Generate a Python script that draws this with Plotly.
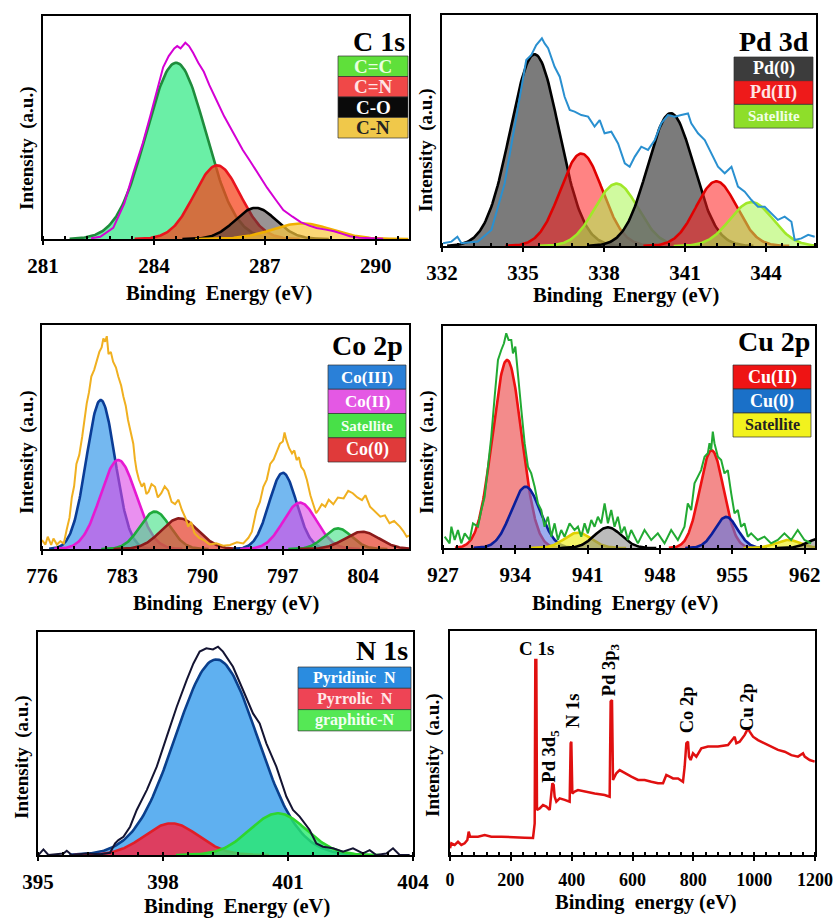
import numpy as np
import plotly.graph_objects as go

W, H = 838, 920
SERIF = "Liberation Serif"

# ---------------- DATA ----------------
# C 1s fit components
c1s_labels = ["C=C", "C=N", "C-O", "C-N"]
c1s_center = [284.60, 285.71, 286.75, 288.0]
c1s_height = [79, 33, 14, 7]
c1s_sigma = [0.80, 0.62, 0.55, 0.80]
c1s_env_x = [282.3, 282.55, 282.9, 283.2, 283.45, 283.7, 283.9, 284.1, 284.25, 284.4,
             284.55, 284.63, 284.72, 284.85, 284.95, 285.06, 285.2, 285.35, 285.5, 285.7,
             285.9, 286.15, 286.4, 286.6, 286.85, 287.06, 287.3, 287.5, 287.75, 287.97,
             288.2, 288.4, 288.65, 288.87, 289.1, 289.3, 289.55, 289.8, 290.2]
c1s_env_y = [0.3, 1, 5, 16, 30, 43, 55, 67, 77, 82,
             85.5, 86.5, 85.5, 88, 86.5, 83.5, 79, 75, 69, 62,
             55, 47.5, 40, 35, 28.5, 23, 17.5, 13, 10, 7.6,
             6, 4.9, 4.2, 3.5, 2.3, 1.2, 0.6, 0.3, 0.1]

# Pd 3d fit components
pd_labels = ["Pd(0)", "Pd(II)", "Satellite"]
pd_kind = [0, 1, 2, 0, 1, 2]
pd_center = [335.43, 337.16, 338.46, 340.47, 342.16, 343.46]
pd_height = [83, 40, 27, 57.5, 28, 19]
pd_sigma = [0.90, 0.78, 0.80, 0.85, 0.75, 0.80]
pd_env_x = [332.04, 332.35, 332.57, 332.72, 333.33, 333.83, 334.32, 334.81, 335.12, 335.31,
            335.49, 335.70, 335.80, 335.93, 336.05, 336.17, 336.36, 336.54, 336.73, 336.91,
            337.16, 337.41, 337.65, 337.84, 338.02, 338.27, 338.52, 338.77, 338.95, 339.14,
            339.38, 339.63, 339.88, 340.12, 340.37, 340.62, 340.86, 341.11, 341.23, 341.48,
            341.73, 341.98, 342.22, 342.47, 342.72, 342.96, 343.21, 343.46, 343.70, 343.95,
            344.20, 344.44, 344.69, 344.94, 345.06, 345.31, 345.56, 345.80]
pd_env_y = [1.2, 1.9, 4.0, 1.2, 1.9, 6.9, 27.1, 58.9, 80.5, 82.7,
            87.0, 89.9, 87.7, 85.6, 82.0, 77.6, 73.3, 64.6, 58.9, 58.2,
            56.7, 56.0, 51.7, 54.5, 48.8, 49.5, 44.4, 35.8, 34.3, 38.7,
            43.0, 41.6, 45.9, 53.1, 56.7, 56.0, 56.7, 57.4, 53.1, 48.8,
            45.9, 40.1, 34.3, 31.5, 34.3, 25.7, 23.5, 19.9, 17.0, 17.0,
            14.2, 11.3, 12.7, 10.5, 2.6, 3.3, 4.8, 4.0]

# Co 2p fit components
co_labels = ["Co(III)", "Co(II)", "Satellite", "Co(0)"]
co_kind = [0, 1, 2, 3, 0, 1, 2, 3]
co_center = [781.12, 782.65, 785.85, 788.0, 797.0, 798.5, 801.8, 803.9]
co_height = [66.5, 39.7, 16.7, 13.7, 34, 20.7, 9.2, 7.7]
co_sigma = [1.25, 1.55, 1.30, 1.60, 1.20, 1.45, 1.20, 1.50]
co_env_x = [776.0, 776.3, 776.5, 776.8, 777.0, 777.3, 777.6, 777.9, 778.15, 778.4,
            778.6, 778.8, 779.0, 779.25, 779.5, 779.7, 779.9, 780.1, 780.3, 780.55,
            780.8, 781.0, 781.2, 781.35, 781.5, 781.65, 781.8, 782.0, 782.2, 782.45,
            782.65, 782.9, 783.1, 783.3, 783.5, 783.75, 783.96, 784.1, 784.25, 784.45,
            784.7, 784.9, 785.1, 785.3, 785.55, 785.85, 786.1, 786.4, 786.7, 787.0,
            787.3, 787.6, 787.9, 788.2, 788.5, 788.75, 789.0, 789.3, 789.7, 790.1,
            790.6, 791.2, 791.8, 792.4, 793.0, 793.55, 794.0, 794.3, 794.5, 794.7,
            795.0, 795.3, 795.6, 795.9, 796.2, 796.5, 796.75, 797.0, 797.15, 797.3,
            797.55, 797.8, 798.0, 798.2, 798.4, 798.6, 798.85, 799.1, 799.4, 799.65,
            799.9, 800.1, 800.4, 800.7, 801.0, 801.4, 801.8, 802.3, 802.7, 803.1,
            803.5, 803.9, 804.2, 804.6, 805.0, 805.5, 805.9, 806.3, 806.7, 807.2,
            807.5, 807.8, 808.0]
co_env_y = [4, 2, 5.5, 1.8, 4.7, 2, 3.5, 2.5, 8.6, 14,
            23, 28, 38, 42, 50, 58, 65, 70, 77, 80,
            84, 88, 90, 94, 92.5, 95, 87, 88, 83.6, 81,
            77, 73, 68, 64, 57.6, 52, 47, 40, 35, 31,
            27.8, 29.5, 24.5, 25.6, 29, 27.8, 23, 24.9, 28, 26,
            21, 20, 22, 17.4, 14, 10, 12, 7, 5, 4,
            2, 2.5, 1.5, 1.8, 3, 2.5, 5, 7.7, 12, 17.4,
            21, 27.8, 31, 38, 40, 44, 47, 48, 52, 48.8,
            45, 42.7, 44, 39.7, 41, 36.7, 35, 30.8, 24, 20,
            16, 17.4, 20, 18.9, 22, 20, 23, 22.6, 26, 24.9,
            23, 21.8, 24, 18.9, 17, 14.4, 15, 11.5, 12.5, 10,
            8, 5.5, 6]

# Cu 2p fit components
cu_labels = ["Cu(II)", "Cu(0)", "Satellite"]
cu_kind = [0, 1, 2, 3, 0, 1, 2, 3]
cu_center = [933.2, 935.0, 940.05, 942.96, 953.0, 954.4, 960.4, 963.6]
cu_height = [84.7, 27.6, 6.9, 9.3, 44, 14, 3.6, 4.5]
cu_sigma = [1.40, 1.40, 1.30, 1.30, 1.15, 1.10, 1.20, 1.20]
cu_env_x = [927.16, 927.64, 927.81, 928.13, 928.45, 928.77, 929.10, 929.58, 929.90, 930.38,
            930.71, 931.03, 931.35, 931.67, 932.0, 932.32, 932.64, 932.9, 933.12, 933.35,
            933.61, 933.77, 934.0, 934.25, 934.58, 934.9, 935.22, 935.54, 935.87, 936.19,
            936.51, 936.83, 937.15, 937.48, 937.8, 938.12, 938.44, 938.77, 939.25, 939.73,
            940.06, 940.38, 940.7, 941.02, 941.35, 941.67, 941.99, 942.31, 942.64, 942.96,
            943.28, 943.6, 943.92, 944.25, 944.57, 944.89, 945.21, 945.86, 946.5, 947.15,
            947.79, 948.44, 949.08, 949.73, 950.37, 950.69, 951.02, 951.34, 951.66, 951.98,
            952.31, 952.63, 952.79, 952.95, 953.11, 953.27, 953.6, 953.92, 954.24, 954.56,
            954.89, 955.21, 955.53, 955.85, 956.17, 956.5, 956.82, 957.46, 958.11, 958.75,
            959.4, 960.04, 960.69, 961.33, 961.98, 962.62]
cu_env_y = [5.1, 2.1, 9.6, 3.6, 8.1, 2.1, 6.6, 3.6, 11.1, 9.6,
            17.1, 23.1, 36.6, 50.1, 68.2, 84.7, 89.2, 92.2, 96.7, 93.7,
            93.7, 87.7, 90.7, 77.2, 62.2, 47.2, 36.6, 33.6, 27.6, 20.1,
            17.1, 9.6, 14.1, 5.1, 11.1, 3.6, 8.1, 5.1, 11.1, 8.1,
            9.6, 5.1, 11.1, 6.6, 12.6, 9.6, 14.1, 11.1, 20.1, 11.1,
            17.1, 9.6, 14.1, 6.6, 9.6, 3.6, 8.1, 2.1, 8.1, 3.6,
            6.6, 2.1, 8.1, 3.6, 9.6, 20.1, 17.1, 29.1, 32.1, 35.1,
            41.1, 42.7, 47.2, 44.1, 52.4, 47.2, 41.1, 39.6, 33.6, 35.1,
            24.6, 15.6, 17.1, 9.6, 11.1, 5.1, 6.6, 3.6, 5.1, 2.1,
            3.6, 6.6, 3.6, 8.1, 3.6, 2.1]

# N 1s fit components
n_labels = ["Pyridinic&nbsp; N", "Pyrrolic&nbsp; N", "graphitic-N"]
n_center = [399.28, 398.2, 400.76]
n_height = [87.7, 14.2, 18.7]
n_sigma = [0.98, 0.65, 0.68]
n_env_x = [395.01, 395.13, 395.25, 395.61, 395.69, 395.81, 396.17, 396.49, 396.73, 396.85,
           396.93, 397.05, 397.21, 397.37, 397.61, 397.85, 398.09, 398.33, 398.57, 398.73,
           398.88, 399.04, 399.2, 399.32, 399.44, 399.68, 399.92, 400.16, 400.32, 400.48,
           400.72, 400.96, 401.12, 401.28, 401.52, 401.68, 401.84, 402.08, 402.32, 402.56,
           402.8, 402.96, 403.12, 403.36, 403.52, 403.68, 403.92]
n_env_y = [0, 2.5, 0, 0.7, 1.9, 0, 0.7, 0.3, 1.0, 5.2,
           6.7, 8.2, 12.7, 20.2, 29.1, 39.6, 53.1, 66.5, 78.5, 85.9,
           91.2, 92.7, 92.2, 93.4, 91.2, 84.4, 74.0, 63.5, 59.0, 50.1,
           39.6, 26.2, 20.2, 17.2, 11.2, 5.2, 3.7, 3.0, 1.5, 3.0,
           0.7, 2.2, 0, 0.7, 3.0, 0, 0]

# Survey spectrum
sv_x = [0, 4.4, 15.3, 26.3, 37.3, 48.2, 57.0, 61.4, 65.8, 75.6,
        92.1, 114, 135.9, 168.8, 201.6, 245.5, 272.9, 278.4, 280.5, 283.8,
        286.0, 294.8, 305.8, 316.7, 327.7, 333.1, 336.4, 340.8, 344.1, 349.6,
        360.6, 377.0, 393.4, 396.7, 398.9, 402.2, 409.9, 420.8, 442.8, 475.6,
        508.5, 524.9, 528.2, 532.6, 535.9, 546.8, 557.8, 574.3, 596.2, 618.1,
        640.0, 661.9, 683.8, 700.3, 711.2, 722.2, 733.2, 749.6, 766.0, 771.5,
        777.0, 782.5, 785.8, 791.2, 798.9, 809.9, 826.3, 848.2, 881.1, 914.0,
        930.4, 935.9, 941.4, 952.3, 968.8, 979.7, 985.2, 996.2, 1012.6, 1034.5,
        1056.4, 1078.4, 1100.3, 1122.2, 1144.1, 1160.6, 1166.1, 1182.5, 1198.9]
sv_y = [3.0, 5.2, 4.5, 5.9, 4.5, 5.2, 6.7, 10.4, 8.2, 8.2,
        8.2, 8.9, 8.2, 8.2, 7.9, 7.7, 7.6, 14.1, 87.1, 87.1,
        20.1, 20.8, 22.3, 21.6, 20.1, 26.0, 32.0, 31.3, 26.0, 23.8,
        25.3, 24.6, 23.8, 49.9, 50.6, 27.5, 28.3, 29.0, 28.3, 27.5,
        26.8, 26.0, 68.5, 69.2, 33.5, 36.5, 37.9, 36.5, 35.0, 33.5,
        33.5, 32.7, 32.0, 32.0, 35.7, 35.0, 34.2, 34.2, 32.7, 39.4,
        49.9, 50.6, 43.9, 42.4, 45.4, 43.9, 47.6, 48.4, 48.4, 49.1,
        52.1, 52.8, 49.9, 50.6, 53.6, 56.5, 55.1, 52.8, 51.3, 49.9,
        48.4, 46.9, 46.1, 44.6, 43.9, 45.4, 43.9, 42.4, 41.7]
sv_peak_labels = ["C 1s", "Pd 3d<sub>5</sub>", "N 1s", "Pd 3p<sub>3</sub>", "Co 2p", "Cu 2p"]
sv_peak_x = [283, 332, 404.5, 530, 780, 974]
sv_peak_y = [92.4, 43.9, 64.3, 82.6, 64.7, 66.2]

# ---------------- STYLE / LAYOUT ----------------
fig = go.Figure()
shapes, annots = [], []


def px(x):
    return x / W


def py(y):
    return 1 - y / H


def add_components(i, centers, heights, sigmas, kinds, fills, lines):
    for c, h, s, k in zip(centers, heights, sigmas, kinds):
        xs = np.linspace(c - 3.6 * s, c + 3.6 * s, 160)
        ys = h * np.exp(-((xs - c) ** 2) / (2 * s * s))
        fig.add_trace(go.Scatter(x=xs, y=ys, mode="lines", fill="tozeroy",
                                 fillcolor=fills[k], line=dict(color=lines[k], width=2.6),
                                 xaxis=f"x{i}", yaxis=f"y{i}", showlegend=False,
                                 hoverinfo="skip"))


# panel 1: C 1s
add_components(1, c1s_center, c1s_height, c1s_sigma, [0, 1, 2, 3],
               ["rgba(80,236,150,0.85)", "rgba(245,70,30,0.75)", "rgba(70,60,60,0.55)", "rgba(250,200,60,0.7)"],
               ["#1e8c3c", "#e8141e", "#000000", "#f0b000"])
fig.add_trace(go.Scatter(x=c1s_env_x, y=c1s_env_y, mode="lines", line=dict(color="#d400d4", width=2),
                         xaxis="x1", yaxis="y1", showlegend=False))

# panel 2: Pd 3d
add_components(2, pd_center, pd_height, pd_sigma, pd_kind,
               ["rgba(100,100,100,0.85)", "rgba(255,30,30,0.55)", "rgba(170,245,80,0.55)"],
               ["#000000", "#e00000", "#a0e828"])
fig.add_trace(go.Scatter(x=pd_env_x, y=pd_env_y, mode="lines", line=dict(color="#2a90d0", width=2),
                         xaxis="x2", yaxis="y2", showlegend=False))

# panel 3: Co 2p
add_components(3, co_center, co_height, co_sigma, co_kind,
               ["rgba(70,160,235,0.75)", "rgba(220,70,230,0.6)", "rgba(60,225,130,0.6)", "rgba(230,60,40,0.7)"],
               ["#0a3c96", "#e619d2", "#1eaa3c", "#8b1a1a"])
fig.add_trace(go.Scatter(x=co_env_x, y=co_env_y, mode="lines", line=dict(color="#f0b020", width=2),
                         xaxis="x3", yaxis="y3", showlegend=False))

# panel 4: Cu 2p
add_components(4, cu_center, cu_height, cu_sigma, cu_kind,
               ["rgba(240,110,110,0.8)", "rgba(90,120,230,0.6)", "rgba(240,240,40,0.7)", "rgba(120,120,120,0.5)"],
               ["#ee1111", "#0a1e9a", "#e0d000", "#000000"])
fig.add_trace(go.Scatter(x=cu_env_x, y=cu_env_y, mode="lines", line=dict(color="#22aa33", width=2),
                         xaxis="x4", yaxis="y4", showlegend=False))

# panel 5: N 1s
add_components(5, n_center, n_height, n_sigma, [0, 1, 2],
               ["rgba(95,176,240,1)", "rgba(235,50,80,0.9)", "rgba(40,235,110,0.8)"],
               ["#0a3f8c", "#e01e28", "#2ed62e"])
fig.add_trace(go.Scatter(x=n_env_x, y=n_env_y, mode="lines", line=dict(color="#141432", width=2),
                         xaxis="x5", yaxis="y5", showlegend=False))

# panel 6: survey
fig.add_trace(go.Scatter(x=sv_x, y=sv_y, mode="lines", line=dict(color="#e01010", width=2.5),
                         xaxis="x6", yaxis="y6", showlegend=False))

panels = {
    1: dict(xp=(43, 409), yp=(16, 239), rng=[281, 290.9], tv=[281, 284, 287, 290], mdt=0.6, fs=21),
    2: dict(xp=(442, 816), yp=(15, 246), rng=[332, 345.85], tv=[332, 335, 338, 341, 344], mdt=0.6, fs=21),
    3: dict(xp=(42, 409), yp=(325, 549), rng=[776, 808], tv=[776, 783, 790, 797, 804], mdt=1.4, fs=21),
    4: dict(xp=(443, 815), yp=(326, 548), rng=[927, 963], tv=[927, 934, 941, 948, 955, 962], mdt=1.4, fs=21),
    5: dict(xp=(38, 413), yp=(632, 855), rng=[395, 404], tv=[395, 398, 401, 404], mdt=0.6, fs=21),
    6: dict(xp=(450, 815), yp=(631, 855), rng=[0, 1200], tv=[0, 200, 400, 600, 800, 1000, 1200], mdt=40, fs=18),
}

layout = dict(width=W, height=H, margin=dict(l=0, r=0, t=0, b=0, autoexpand=False),
              paper_bgcolor="white", plot_bgcolor="white", showlegend=False)
for i, p in panels.items():
    xs = "xaxis" if i == 1 else f"xaxis{i}"
    ys = "yaxis" if i == 1 else f"yaxis{i}"
    layout[xs] = dict(domain=[px(p["xp"][0]), px(p["xp"][1])], range=p["rng"], anchor=f"y{i}",
                      tickvals=p["tv"], ticks="outside", ticklen=4, tickwidth=1.5, tickcolor="black",
                      tickfont=dict(family=SERIF, size=p["fs"], color="black", weight="bold"),
                      ticklabelstandoff=3, automargin=False,
                      minor=dict(ticks="inside", ticklen=3, tickwidth=1.5, tickcolor="black",
                                 dtick=p["mdt"], tick0=p["rng"][0]),
                      showline=True, linewidth=2, linecolor="black", mirror=True,
                      showgrid=False, zeroline=False)
    layout[ys] = dict(domain=[py(p["yp"][1]), py(p["yp"][0])], range=[0, 100], anchor=f"x{i}",
                      showticklabels=False, ticks="", showline=True, linewidth=2, linecolor="black",
                      mirror=True, showgrid=False, zeroline=False, automargin=False)


def text(x, y, s, size, color="black", angle=0, xanchor="center", ref=("paper", "paper")):
    annots.append(dict(x=x, y=y, xref=ref[0], yref=ref[1], text=f"<b>{s}</b>", showarrow=False,
                       textangle=angle, xanchor=xanchor, yanchor="middle",
                       font=dict(family=SERIF, size=size, color=color)))


# panel titles
for s, x, y, fs in [("C 1s", 407, 41, 28), ("Pd 3d", 811, 42, 28), ("Co 2p", 405, 345, 28),
                    ("Cu 2p", 812, 341, 28), ("N 1s", 410, 650, 28)]:
    text(px(x), py(y), s, fs, xanchor="right")

# axis titles
for s, x, y in [("Binding&nbsp; Energy (eV)", 219, 293), ("Binding&nbsp; Energy (eV)", 626, 295),
                ("Binding&nbsp; Energy (eV)", 226, 603), ("Binding&nbsp; Energy (eV)", 625, 603),
                ("Binding&nbsp; Energy (eV)", 237, 906), ("Binding&nbsp; energy (eV)", 646, 902)]:
    text(px(x), py(y), s, 20.5)
for x, y in [(27, 148), (426, 150), (27, 452), (427, 452), (22, 757), (433, 755)]:
    text(px(x), py(y), "Intensity&nbsp; (a.u.)", 19, angle=-90)


# legends
def legend_block(x0, x1, y0, row_h, items, sizes):
    for k, (label, bg, fg) in enumerate(items):
        t = y0 + k * row_h
        shapes.append(dict(type="rect", xref="paper", yref="paper", x0=px(x0), x1=px(x1),
                           y0=py(t + row_h), y1=py(t), fillcolor=bg,
                           line=dict(color="rgba(50,50,50,0.7)", width=1), layer="above"))
        text(px((x0 + x1) / 2), py(t + row_h / 2), label, sizes[k], color=fg)


legend_block(338, 408, 56, 20.5, list(zip(c1s_labels, ["#5fe03a", "#f04848", "#0a0a0a", "#f0c84a"],
                                          ["#eaffe0", "#ffe4e4", "#ffffff", "#222222"])), [19, 19, 19, 19])
legend_block(734, 813, 57, 23.7, list(zip(pd_labels, ["#3c3c3c", "#ee1a1a", "#8ede2a"],
                                          ["#ffffff", "#ffe4e4", "#f2ffe6"])), [18, 18, 15])
legend_block(328, 406, 365, 24.25, list(zip(co_labels, ["#2a80d8", "#e458e4", "#48e048", "#e03a3a"],
                                            ["#ffffff", "#ffffff", "#f2fff2", "#ffffff"])), [17, 17, 15, 18])
legend_block(733, 811, 365, 24, list(zip(cu_labels, ["#ee1414", "#1a70c8", "#f2f21e"],
                                         ["#ffffff", "#ffffff", "#222222"])), [18, 18, 16])
legend_block(298, 411, 667, 21.3, list(zip(n_labels, ["#2a8ce0", "#ee4455", "#55e855"],
                                           ["#ffffff", "#ffe8e8", "#f2fff2"])), [16, 16, 16])

# survey peak labels
for s, x, y in zip(sv_peak_labels, sv_peak_x, sv_peak_y):
    ang = 0 if s == "C 1s" else -90
    text(x, y, s, 18.5 if ang else 19, angle=ang, ref=("x6", "y6"))

layout["shapes"] = shapes
layout["annotations"] = annots
fig.update_layout(**layout)
fig.write_html("out.html", config={"displayModeBar": False},
               post_script="document.body.style.margin='0';document.body.style.padding='0';")
